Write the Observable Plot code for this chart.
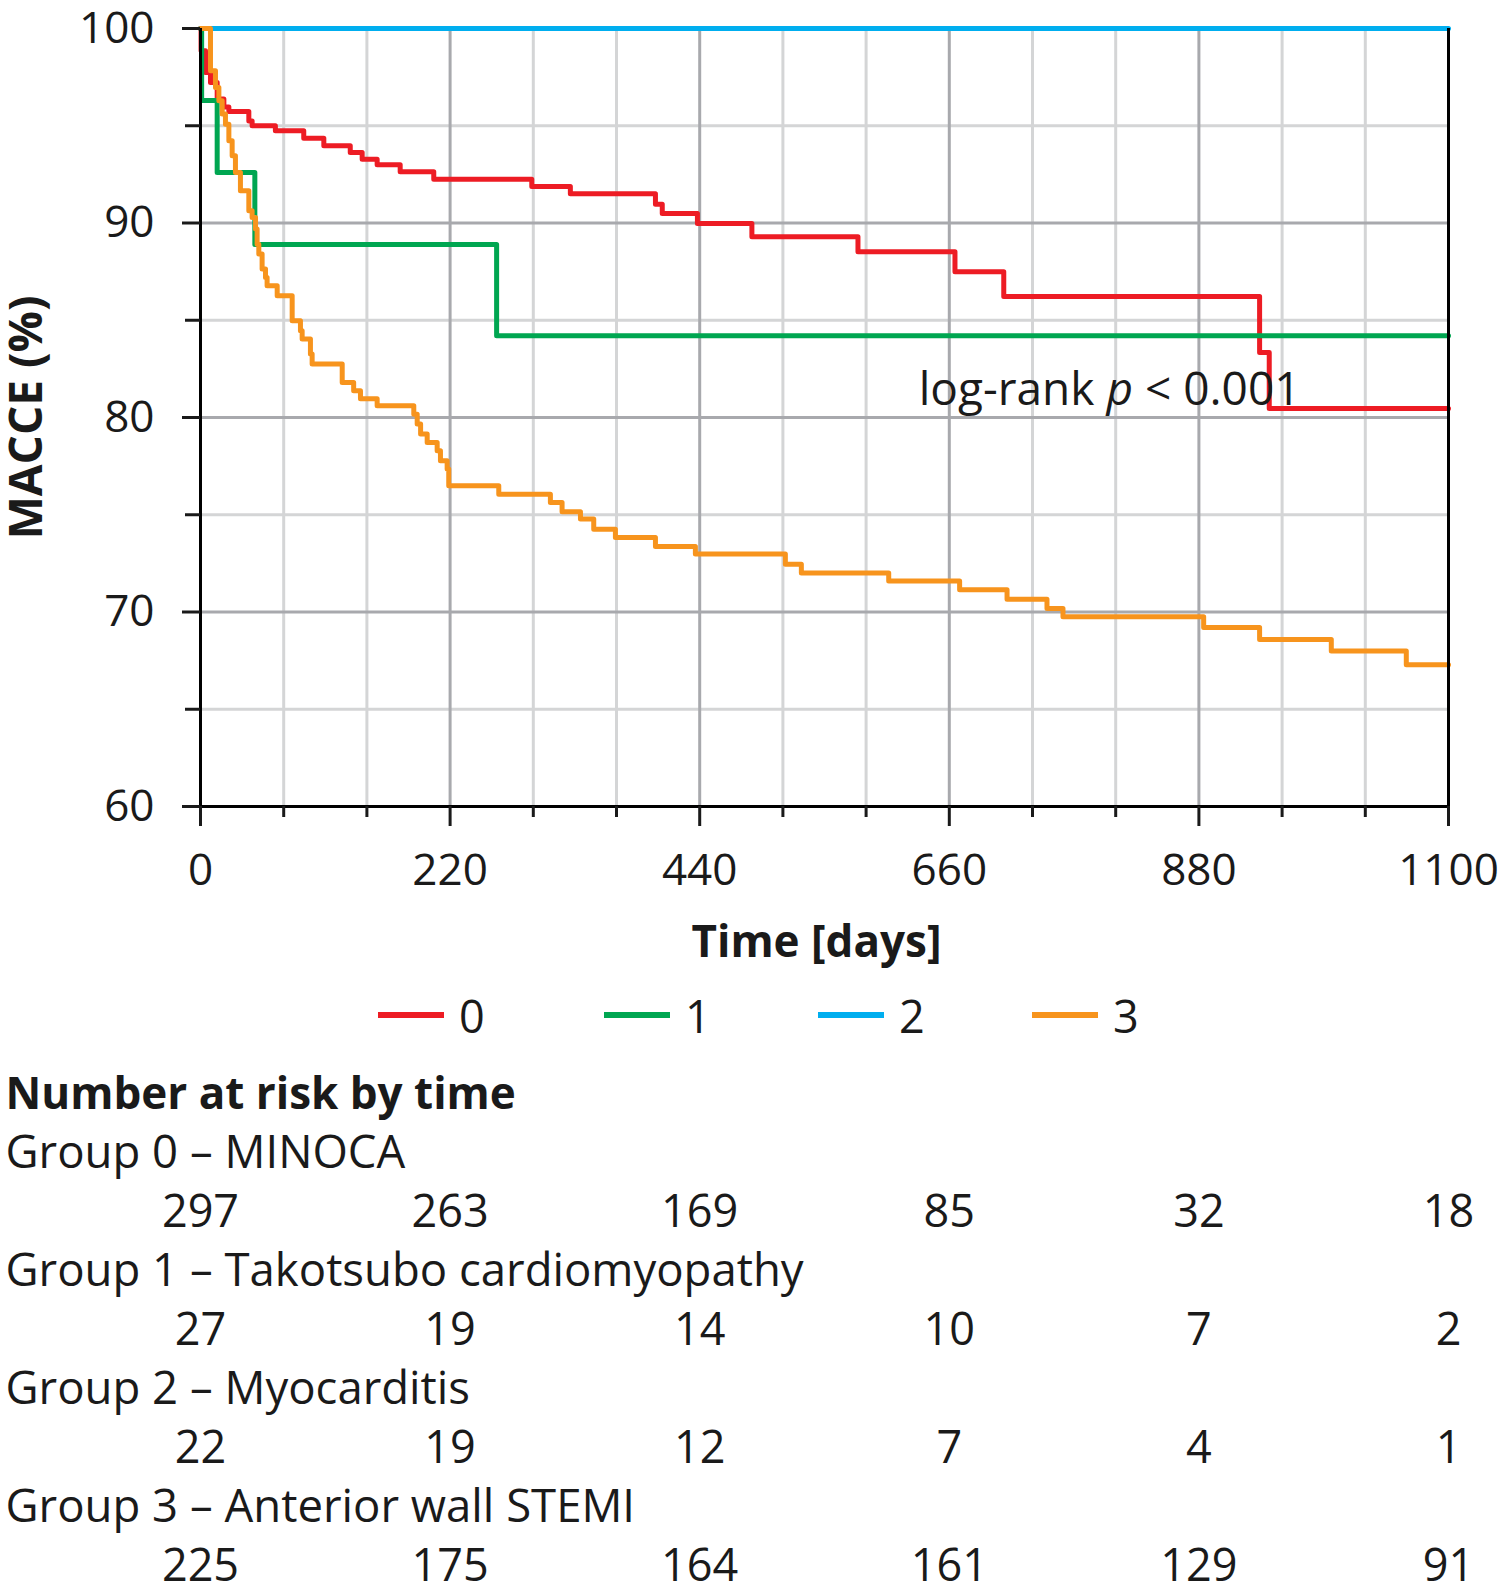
<!DOCTYPE html>
<html><head><meta charset="utf-8">
<script src="https://cdn.jsdelivr.net/npm/d3@7"></script>
<script src="https://cdn.jsdelivr.net/npm/@observablehq/plot@0.6"></script>
<style>
body{margin:0;background:#fff;font-family:"Open Sans",sans-serif;}
#wrap{position:relative;width:1500px;height:1640px;overflow:hidden;}
#chart{position:absolute;left:0;top:0;}
#legend{position:absolute;left:0;top:990px;width:1500px;height:50px;}
.item{position:absolute;top:0;height:50px;display:flex;align-items:center;font-size:45px;color:#1a1a1a;}
.swatch{width:66px;height:6px;margin-right:15px;}
#table{position:absolute;left:0;top:1060px;}
</style></head><body><div id="wrap"><div id="chart"></div><div id="legend"></div><div id="table"></div></div>
<script>
// ---- data ----
const groups = ["0", "1", "2", "3"];
const groupNames = ["Group 0 – MINOCA", "Group 1 – Takotsubo cardiomyopathy", "Group 2 – Myocarditis", "Group 3 – Anterior wall STEMI"];
const colors = ["#ed1c24", "#00a651", "#00aeef", "#f7941d"];

const g0Days = [0, 0.5, 4.4, 8.8, 14.7, 20.6, 25, 42.6, 45.5, 66, 91, 108.7, 132, 142.5, 155.7, 176, 205.6, 292, 326, 401, 407, 438, 486, 579.5, 665, 708, 933.5, 942, 1100];
const g0Surv = [100, 98.85, 97.74, 97.22, 96.37, 95.97, 95.73, 95.25, 95.0, 94.74, 94.36, 93.97, 93.62, 93.28, 93.0, 92.63, 92.25, 91.88, 91.5, 90.97, 90.49, 89.97, 89.29, 88.52, 87.49, 86.22, 83.34, 80.46, 80.46];

const g1Days = [0, 1, 14.7, 47.9, 261, 1100];
const g1Surv = [100, 96.3, 92.59, 88.89, 84.2, 84.2];

const g2Days = [0, 1100];
const g2Surv = [100, 100];

const g3Days = [0, 8.8, 13.2, 16.2, 19.1, 22, 25, 27.9, 30.8, 35.2, 42.6, 45.5, 48.5, 49.9, 51.4, 54.3, 57.3, 58.7, 67.6, 80.8, 88.1, 89.6, 96.9, 98.4, 124.9, 135, 141, 155.7, 188, 191, 194, 199.8, 208.6, 211.5, 217.4, 218.8, 262.9, 308.4, 318.7, 334.9, 346.6, 365.7, 401, 436.2, 515.5, 529.6, 606.6, 669.1, 710.9, 746.1, 760.2, 884.2, 933.5, 996.7, 1062.8, 1100];
const g3Surv = [100, 97.83, 96.97, 96.28, 95.6, 95.08, 94.23, 93.46, 92.6, 91.66, 90.63, 90.28, 89.69, 88.91, 88.4, 87.63, 87.2, 86.77, 86.26, 84.97, 84.46, 84.03, 83.26, 82.75, 81.8, 81.37, 80.96, 80.6, 80.17, 79.66, 79.15, 78.71, 78.29, 77.77, 77.35, 76.49, 76.06, 75.63, 75.15, 74.78, 74.26, 73.83, 73.37, 72.98, 72.46, 72.0, 71.6, 71.14, 70.66, 70.18, 69.75, 69.2, 68.59, 68.0, 67.29, 67.29];

const xMajorTicks = [0, 220, 440, 660, 880, 1100];
const yMajorTicks = [60, 70, 80, 90, 100];
const yMinorTicks = [65, 75, 85, 95];
const riskTimes = [0, 220, 440, 660, 880, 1100];
const risk0 = [297, 263, 169, 85, 32, 18];
const risk1 = [27, 19, 14, 10, 7, 2];
const risk2 = [22, 19, 12, 7, 4, 1];
const risk3 = [225, 175, 164, 161, 129, 91];
const annotText = "log-rank p < 0.001";
const annotPos = {x: 633, y: 81.4};
const yTitle = "MACCE (%)";
const xTitle = "Time [days]";
const tableTitle = "Number at risk by time";

// ---- build tables ----
const curveDays = [g0Days, g1Days, g2Days, g3Days];
const curveSurv = [g0Surv, g1Surv, g2Surv, g3Surv];
const curves = [];
groups.forEach((g, i) => curveDays[i].forEach((d, j) => curves.push({group: g, day: d, surv: curveSurv[i][j]})));
const xMinorTicks = d3.range(0, 16).map(i => i * 1100 / 15).filter(v => !xMajorTicks.some(m => Math.abs(m - v) < 1e-6));

const font = '"Open Sans", sans-serif';
const ink = "#1a1a1a";
const chart = Plot.plot({
  width: 1500, height: 975,
  marginLeft: 200, marginRight: 52, marginTop: 28, marginBottom: 169,
  style: {fontFamily: font, fontSize: "44px", color: ink, background: "white"},
  x: {domain: [0, 1100], label: null},
  y: {domain: [60, 100], label: null},
  color: {domain: groups, range: colors},
  marks: [
    Plot.gridX(xMinorTicks, {stroke: "#d4d5d6", strokeOpacity: 1, strokeWidth: 3}),
    Plot.gridY(yMinorTicks, {stroke: "#d4d5d6", strokeOpacity: 1, strokeWidth: 3}),
    Plot.gridX(xMajorTicks, {stroke: "#a8a9ad", strokeOpacity: 1, strokeWidth: 3}),
    Plot.gridY(yMajorTicks, {stroke: "#a8a9ad", strokeOpacity: 1, strokeWidth: 3}),
    Plot.line(curves, {x: "day", y: "surv", z: "group", stroke: "group", curve: "step-after", strokeWidth: 5}),
    Plot.ruleX([0], {stroke: "black", strokeWidth: 3}),
    Plot.ruleX([1100], {stroke: "black", strokeWidth: 3}),
    Plot.ruleY([60], {stroke: "black", strokeWidth: 3}),
    Plot.axisY(yMajorTicks, {tickSize: 18, tickPadding: 28, strokeWidth: 3, tickFormat: d => String(d), label: null}),
    Plot.axisY(yMinorTicks, {tickSize: 15, tickFormat: () => "", strokeWidth: 3, label: null}),
    Plot.axisX(xMajorTicks, {tickSize: 20, tickPadding: 27, strokeWidth: 3, tickFormat: d => String(d), label: null}),
    Plot.axisX(xMinorTicks, {tickSize: 11, tickFormat: () => "", strokeWidth: 3, label: null}),
    Plot.text([annotText], {x: () => annotPos.x, y: () => annotPos.y, text: d => d, textAnchor: "start", lineAnchor: "middle", fontSize: 46, fill: ink}),
    Plot.text([yTitle], {frameAnchor: "left", dx: -173, rotate: -90, text: d => d, textAnchor: "middle", lineAnchor: "middle", fontSize: 46, fontWeight: "bold", fill: ink}),
    Plot.text([xTitle], {frameAnchor: "bottom", dx: -8, dy: 136, text: d => d, textAnchor: "middle", lineAnchor: "middle", fontSize: 44, fontWeight: "bold", fill: ink})
  ]
});
d3.select(chart).selectAll("text").filter(function() { return this.textContent === annotText; })
  .html('log-rank <tspan font-style="italic">p</tspan> &lt; 0.001');
document.getElementById("chart").appendChild(chart);

// ---- legend ----
const legendLeft = [378, 604, 818, 1032];
const legend = d3.select("#legend");
groups.forEach((g, i) => {
  const it = legend.append("div").attr("class", "item").style("left", legendLeft[i] + "px");
  it.append("span").attr("class", "swatch").style("background", colors[i]);
  it.append("span").text(g);
});

// ---- number at risk table ----
const rowIds = ["h", "l0", "n0", "l1", "n1", "l2", "n2", "l3", "n3"];
const risks = [risk0, risk1, risk2, risk3];
const labelRows = groupNames.map((name, i) => ({row: "l" + i, name}));
const numRows = [];
risks.forEach((r, i) => r.forEach((n, j) => numRows.push({row: "n" + i, t: riskTimes[j], n})));
const table = Plot.plot({
  width: 1500, height: 540,
  marginLeft: 200, marginRight: 52, marginTop: 0, marginBottom: 0,
  style: {fontFamily: font, fontSize: "44px", color: ink, background: "white"},
  x: {domain: [0, 1100], axis: null},
  y: {type: "point", domain: rowIds, range: [33, 506], padding: 0, axis: null},
  marks: [
    Plot.text([tableTitle], {y: () => "h", text: d => d, frameAnchor: "left", dx: -195, textAnchor: "start", lineAnchor: "middle", fontSize: 44, fontWeight: "bold", fill: ink}),
    Plot.text(labelRows, {y: "row", text: "name", frameAnchor: "left", dx: -195, textAnchor: "start", lineAnchor: "middle", fontSize: 45.5, fill: ink}),
    Plot.text(numRows, {x: "t", y: "row", text: "n", lineAnchor: "middle", fontSize: 45, fill: ink})
  ]
});
document.getElementById("table").appendChild(table);
</script></body></html>
